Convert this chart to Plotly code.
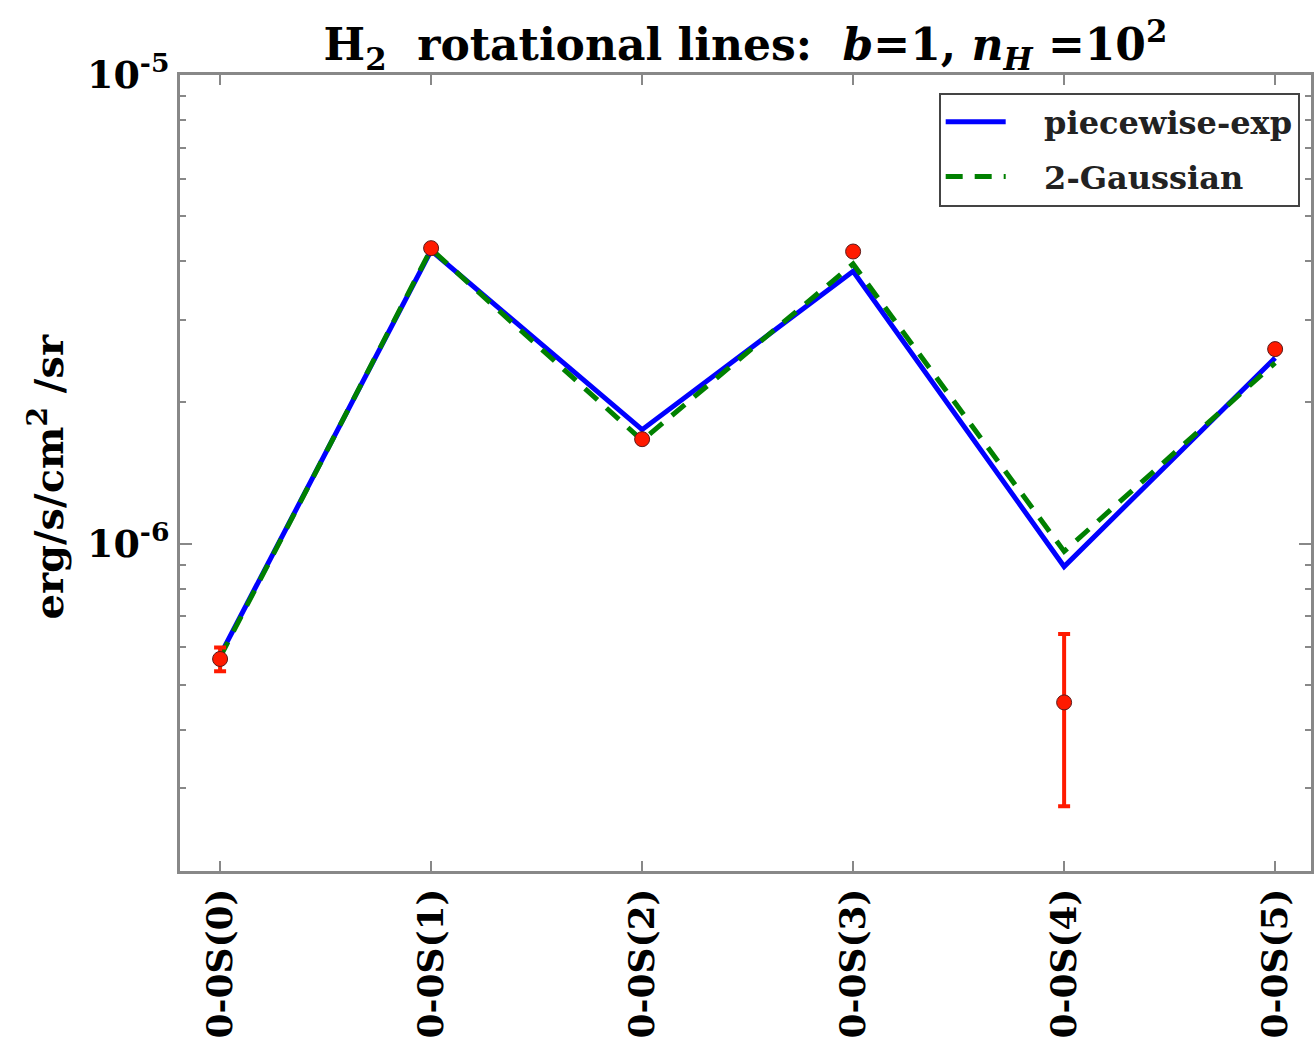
import plotly.graph_objects as go

lines = ["0-0S(0)", "0-0S(1)", "0-0S(2)", "0-0S(3)", "0-0S(4)", "0-0S(5)"]
observed = [5.67e-7, 4.27e-6, 1.67e-6, 4.20e-6, 4.58e-7, 2.60e-6]
observed_err = [0.33e-7, 0.0, 0.0, 0.0, 1.83e-7, 0.0]
piecewise_exp = [5.77e-7, 4.22e-6, 1.75e-6, 3.81e-6, 8.93e-7, 2.49e-6]
two_gaussian = [5.72e-7, 4.25e-6, 1.66e-6, 3.95e-6, 9.62e-7, 2.43e-6]

ytick_vals = [1e-6, 1e-5]
ytick_text = ["10<sup>-6</sup>", "10<sup>-5</sup>"]
yminor_vals = [2e-7, 3e-7, 4e-7, 5e-7, 6e-7, 7e-7, 8e-7, 9e-7,
               2e-6, 3e-6, 4e-6, 5e-6, 6e-6, 7e-6, 8e-6, 9e-6]

FONT = "DejaVu Serif"
NB = "\u00a0"
x = list(range(len(lines)))

fig = go.Figure()
fig.add_trace(go.Scatter(
    x=x, y=piecewise_exp, mode="lines", name=NB * 3 + "piecewise-exp",
    legendgroup="a",
    line=dict(color="#0000ff", width=5),
))
fig.add_trace(go.Scatter(
    x=x, y=two_gaussian, mode="lines", name=NB * 3 + "2-Gaussian",
    legendgroup="b",
    line=dict(color="#008000", width=5, dash="17px,12px"),
))
fig.add_trace(go.Scatter(
    x=x, y=observed, mode="markers", name="observed", showlegend=False,
    legendgroup="c",
    marker=dict(color="#ff1a00", size=15, line=dict(color="#5a1a1a", width=1)),
    error_y=dict(type="data", array=observed_err, symmetric=True,
                 color="#ff1a00", thickness=4, width=6),
))

fig.update_layout(
    width=1314, height=1039,
    margin=dict(l=180, r=0, t=75, b=162),
    paper_bgcolor="white", plot_bgcolor="white",
    font=dict(family=FONT, color="black", weight="bold"),
    title=dict(
        text="H<sub>2</sub>  rotational lines:  <i>b</i>=1, <i>n</i><sub><i>H</i></sub> =10<sup>2</sup>",
        x=0.5, xref="paper", xanchor="center",
        y=1 - 45 / 1039, yref="container", yanchor="middle",
        font=dict(family=FONT, size=44, color="black", weight="bold"),
    ),
    legend=dict(
        x=0.99, xanchor="right", y=0.978, yanchor="top",
        bgcolor="white", bordercolor="#444", borderwidth=2,
        font=dict(family=FONT, size=32, color="#222", weight="bold"),
        itemwidth=60, tracegroupgap=10,
    ),
    showlegend=True,
)

fig.update_xaxes(
    range=[-0.19, 5.17],
    tickmode="array", tickvals=x, ticktext=lines, tickangle=-90,
    ticks="inside", ticklen=10, tickwidth=2, tickcolor="#888",
    showline=True, linecolor="#888", linewidth=3, mirror="ticks",
    showgrid=False, zeroline=False,
    tickfont=dict(family=FONT, size=36, color="black", weight="bold"),
)
fig.update_yaxes(
    type="log", range=[-6.699, -5.0],
    tickmode="array", tickvals=ytick_vals, ticktext=ytick_text,
    ticks="inside", ticklen=12, tickwidth=2, tickcolor="#888",
    minor=dict(tickmode="array", tickvals=yminor_vals, ticks="inside",
               ticklen=6, tickwidth=2, tickcolor="#888", showgrid=False),
    showline=True, linecolor="#888", linewidth=3, mirror="ticks",
    showgrid=False, zeroline=False,
    tickfont=dict(family=FONT, size=38, color="black", weight="bold"),
)

fig.add_annotation(
    text="erg/s/cm<sup>2</sup> /sr", textangle=-90,
    xref="paper", yref="paper", x=-0.118, y=0.495,
    xanchor="center", yanchor="middle", showarrow=False,
    font=dict(family=FONT, size=40, color="black", weight="bold"),
)

fig.write_html("out.html")
